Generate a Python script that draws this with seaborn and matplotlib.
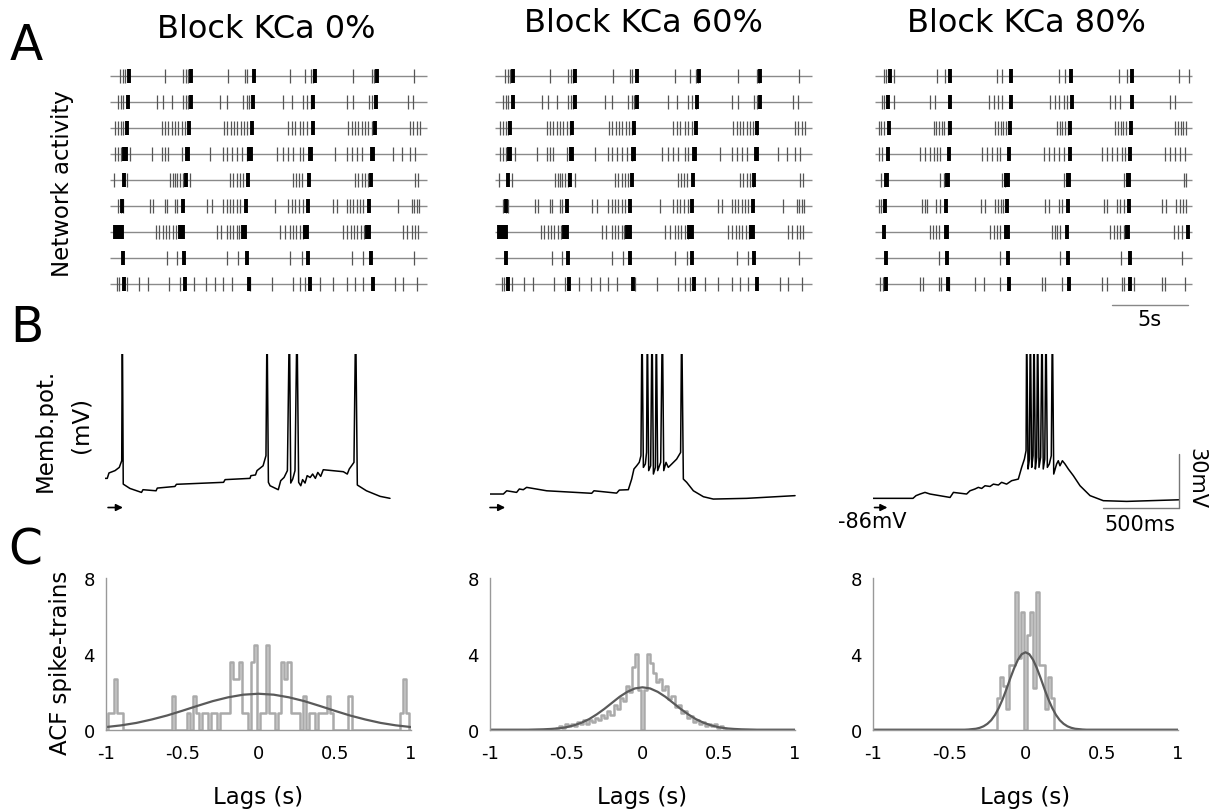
import numpy as np
import pandas as pd
import matplotlib
matplotlib.use("Agg")
import matplotlib.pyplot as plt
import seaborn as sns

# ---------------- DATA ----------------
titles = ["Block KCa 0%", "Block KCa 60%", "Block KCa 80%"]
panel_letters = ["A", "B", "C"]

# Panel A: raster (spike times in s), 9 neurons per condition
kca0_spikes = [
    [0.52, 0.69, 0.84, 3.42, 4.6, 4.77, 4.92, 7.5, 8.58, 8.73, 11.48, 12.45, 12.82, 12.99, 15.57, 16.75, 16.9, 19.5],
    [0.41, 0.56, 0.73, 2.92, 3.31, 3.85, 4.6, 4.77, 4.92, 6.97, 7.4, 8.47, 8.69, 8.86, 11.0, 11.6, 12.34, 12.56, 12.82, 15.14, 15.53, 16.6, 16.75, 19.1, 19.44],
    [0.19, 0.41, 0.56, 0.73, 3.2, 3.42, 3.63, 3.85, 4.06, 4.28, 4.5, 4.71, 7.23, 7.44, 7.66, 7.87, 8.09, 8.3, 8.52, 8.73, 11.38, 11.6, 11.8, 12.13, 12.34, 12.56, 15.25, 15.46, 15.68, 15.9, 16.1, 16.3, 16.5, 16.75, 19.2, 19.44, 19.66, 19.87],
    [0.19, 0.41, 0.56, 1.16, 2.56, 3.2, 3.42, 3.63, 4.5, 6.32, 7.18, 7.4, 7.72, 8.04, 8.37, 8.69, 10.62, 11.05, 11.38, 11.7, 12.13, 12.34, 14.39, 15.14, 15.46, 15.78, 16.1, 18.15, 18.69, 19.22, 19.55],
    [0.13, 0.95, 3.74, 3.91, 4.06, 4.22, 4.39, 4.56, 5.03, 7.61, 7.83, 8.04, 8.26, 8.43, 11.7, 11.87, 12.04, 12.24, 15.68, 15.9, 16.1, 16.32, 16.5, 19.55, 19.76],
    [0.41, 0.56, 0.73, 2.45, 2.67, 3.42, 3.53, 4.06, 4.17, 6.1, 6.43, 7.18, 7.4, 7.61, 7.83, 8.04, 8.26, 10.52, 11.38, 11.6, 11.8, 12.09, 12.34, 14.28, 14.49, 15.14, 15.35, 15.57, 15.78, 16.0, 16.2, 18.47, 19.33, 19.48, 19.66, 19.83],
    [2.84, 3.05, 3.27, 3.48, 3.7, 3.91, 4.13, 6.75, 7.01, 7.4, 7.61, 7.83, 8.04, 8.21, 10.84, 11.16, 11.48, 11.7, 11.9, 12.13, 12.34, 14.92, 15.14, 15.4, 15.61, 15.83, 16.04, 16.26, 18.75, 19.0, 19.33, 19.55, 19.76],
    [3.53, 4.17, 7.4, 8.15, 11.48, 12.24, 15.46, 16.21, 19.5],
    [0.3, 0.47, 0.95, 1.76, 2.34, 3.7, 4.39, 5.29, 6.06, 6.65, 7.18, 7.72, 8.9, 10.3, 11.7, 12.13, 12.45, 13.42, 14.28, 15.14, 15.68, 16.21, 18.26, 18.8, 19.66],
]
kca0_bursts = [
    [1.12, 5.08, 9.16, 13.1, 17.07],
    [1.05, 5.08, 9.12, 12.99, 17.03],
    [0.99, 4.99, 9.01, 12.99, 16.97],
    [0.8, 0.9, 4.82, 4.9, 8.86, 8.95, 12.78, 12.87, 16.78, 16.87],
    [0.77, 4.77, 8.8, 12.73, 16.69],
    [0.62, 4.56, 8.65, 12.67, 16.6],
    [0.18, 0.33, 0.48, 0.62, 4.4, 4.55, 8.45, 8.6, 12.48, 12.6, 16.45, 16.57],
    [0.69, 4.65, 8.69, 12.67, 16.69],
    [0.77, 4.71, 8.84, 12.77, 16.82],
]
# 60% block: network pattern read as practically the same as 0%
kca60_spikes = [list(r) for r in kca0_spikes]
kca60_bursts = [
    [1.05, 5.0, 9.05, 13.0, 16.95],
    [1.0, 5.0, 9.05, 12.9, 16.95],
    [0.85, 4.85, 8.85, 12.85, 16.75],
    [0.75, 0.85, 4.75, 4.85, 8.75, 8.85, 12.7, 12.8, 16.7, 16.8],
    [0.7, 4.7, 8.7, 12.65, 16.6],
    [0.55, 4.5, 8.55, 12.6, 16.5],
    [0.12, 0.27, 0.42, 0.56, 4.35, 4.5, 8.4, 8.55, 12.4, 12.55, 16.4, 16.5],
    [0.6, 4.6, 8.6, 12.6, 16.6],
    [0.7, 4.65, 8.75, 12.7, 16.75],
]
kca80_spikes = [
    [0.43, 0.6, 1.08, 3.87, 4.41, 7.74, 8.06, 11.72, 12.15, 15.59, 16.13, 19.46, 20.1],
    [0.32, 0.47, 1.08, 3.44, 3.76, 7.2, 7.53, 7.8, 8.06, 11.18, 11.46, 11.72, 12.04, 12.26, 15.05, 15.38, 15.7, 18.92, 19.25],
    [0.11, 0.26, 0.43, 3.66, 3.83, 4.0, 4.17, 4.34, 4.56, 7.63, 7.8, 7.98, 8.15, 8.32, 11.61, 11.78, 11.96, 12.13, 12.3, 15.38, 15.55, 15.72, 15.89, 16.06, 19.25, 19.42, 19.59, 19.76, 19.94],
    [0.11, 0.32, 2.8, 3.12, 3.44, 3.66, 3.87, 4.09, 6.77, 7.1, 7.42, 7.74, 7.96, 10.75, 11.08, 11.4, 11.72, 12.04, 14.52, 14.84, 15.16, 15.48, 15.8, 16.02, 18.6, 18.92, 19.25, 19.57, 19.89],
    [0.26, 4.09, 4.3, 8.06, 8.28, 12.04, 15.91, 19.78, 19.96],
    [0.11, 0.26, 2.9, 3.08, 3.23, 3.83, 4.04, 6.71, 6.99, 7.63, 7.8, 7.98, 8.15, 10.82, 11.08, 11.72, 11.94, 14.62, 14.84, 15.48, 15.7, 15.91, 18.39, 18.67, 19.31, 19.53, 19.74, 19.96],
    [3.44, 3.61, 3.78, 4.0, 7.31, 7.53, 7.74, 7.96, 11.29, 11.46, 11.63, 11.83, 15.05, 15.27, 15.48, 15.7, 15.91, 19.14, 19.4, 19.68],
    [3.98, 7.96, 11.83, 15.74, 19.68],
    [0.22, 0.39, 2.8, 2.97, 3.98, 4.13, 4.62, 6.34, 6.88, 7.96, 10.65, 10.86, 11.94, 14.52, 14.84, 15.8, 15.91, 16.6, 18.39, 18.6, 19.89],
]
kca80_bursts = [
    [0.82, 4.69, 8.65, 12.52, 16.45],
    [0.69, 4.69, 8.65, 12.58, 16.45],
    [0.75, 4.69, 8.6, 12.47, 16.39],
    [0.69, 4.62, 8.49, 12.43, 16.3],
    [0.56, 0.64, 4.52, 4.6, 8.35, 8.43, 12.33, 12.41, 16.2, 16.28],
    [0.54, 4.47, 8.39, 12.3, 16.24],
    [0.47, 4.43, 4.51, 8.35, 8.43, 12.26, 16.13, 16.21, 20.04],
    [0.6, 4.52, 8.43, 12.3, 16.3],
    [0.6, 4.56, 8.49, 12.37, 16.3],
]
raster_span = [-0.15, 20.3]

# Panel B: membrane potential traces (time s, mV)
trace0_t = [0.000, 0.015, 0.026, 0.066, 0.094, 0.110, 0.114, 0.120, 0.164, 0.240, 0.250, 0.336, 0.344, 0.460, 0.470,
            0.780, 0.790, 0.954, 0.960, 0.990, 1.000, 1.040, 1.059, 1.066, 1.075, 1.086, 1.140, 1.156, 1.178, 1.200,
            1.213, 1.222, 1.235, 1.250, 1.263, 1.274, 1.288, 1.300, 1.316, 1.330, 1.350, 1.366, 1.384, 1.400, 1.419,
            1.436, 1.568, 1.594, 1.607, 1.638, 1.649, 1.660, 1.720, 1.810, 1.875]
trace0_v = [-69.8, -69.8, -66.8, -65.5, -63.7, -60.0, 20.0, -73.0, -75.4, -77.6, -76.1, -76.7, -75.2, -74.3, -73.1,
            -72.0, -70.5, -69.8, -68.3, -67.9, -65.5, -62.8, -57.2, 20.0, -72.0, -73.9, -76.1, -71.1, -69.3, -65.5,
            20.0, -72.4, -70.2, -65.5, 20.0, -72.0, -73.9, -70.5, -72.4, -68.3, -69.3, -67.4, -69.8, -66.5, -68.7,
            -65.0, -66.1, -67.4, -64.6, -60.9, 20.0, -73.5, -76.7, -79.8, -80.9]
trace60_t = [0.000, 0.088, 0.110, 0.175, 0.193, 0.219, 0.241, 0.373, 0.669, 0.684, 0.833, 0.851, 0.910, 0.932, 0.947,
             0.965, 0.982, 0.993, 1.000, 1.009, 1.022, 1.030, 1.035, 1.044, 1.057, 1.066, 1.075, 1.088, 1.094, 1.103,
             1.123, 1.134, 1.143, 1.158, 1.173, 1.196, 1.228, 1.254, 1.261, 1.272, 1.294, 1.338, 1.404, 1.469, 1.689,
             2.007]
trace60_v = [-78.5, -78.5, -76.7, -77.6, -75.7, -76.1, -74.8, -76.7, -78.1, -76.7, -78.0, -76.3, -76.1, -70.2, -64.6,
             -62.8, -60.9, -57.2, 20.0, -63.7, -61.8, -55.4, 20.0, -65.5, -62.8, 20.0, -67.4, -63.7, 20.0, -65.5,
             -60.9, 20.0, -65.5, -60.9, -63.7, -61.8, -59.1, -55.4, 20.0, -70.2, -72.0, -76.7, -80.0, -81.3, -80.9,
             -79.4]
trace80_t = [0.000, 0.263, 0.283, 0.310, 0.342, 0.375, 0.507, 0.529, 0.616, 0.638, 0.671, 0.693, 0.715, 0.737, 0.770,
             0.792, 0.825, 0.846, 0.879, 0.912, 0.956, 0.978, 0.996, 1.007, 1.011, 1.020, 1.029, 1.035, 1.044, 1.053,
             1.059, 1.068, 1.077, 1.083, 1.092, 1.103, 1.112, 1.120, 1.130, 1.138, 1.147, 1.160, 1.173, 1.180, 1.189,
             1.208, 1.219, 1.230, 1.246, 1.263, 1.285, 1.318, 1.362, 1.428, 1.515, 1.669, 2.015]
trace80_v = [-80.9, -80.9, -79.4, -78.5, -77.6, -78.5, -80.4, -77.6, -78.5, -76.7, -75.7, -74.8, -75.4, -73.9, -74.3,
             -73.0, -73.5, -72.0, -73.0, -71.1, -70.2, -63.7, -59.1, -54.4, 20.0, -64.6, -59.1, 20.0, -63.7, -57.2,
             20.0, -64.6, -58.1, 20.0, -63.7, -58.1, 20.0, -64.6, -59.1, 20.0, -63.7, -61.8, -57.2, 20.0, -67.4,
             -61.8, -60.0, -62.8, -60.0, -61.8, -64.6, -68.3, -73.9, -79.4, -82.2, -82.6, -81.7]
rest_level_mv = -86

# Panel C: autocorrelograms (bin centers, heights) and Gaussian fits
acf0_lags = [-0.98, -0.96, -0.94, -0.92, -0.90, -0.56, -0.46, -0.42, -0.40, -0.36, -0.34, -0.30, -0.28, -0.24,
             -0.22, -0.20, -0.18, -0.16, -0.14, -0.12, -0.10, -0.08, -0.04, -0.02, 0.02, 0.04, 0.06, 0.08, 0.10,
             0.14, 0.16, 0.18, 0.20, 0.22, 0.24, 0.26, 0.30, 0.34, 0.36, 0.40, 0.42, 0.44, 0.46, 0.48, 0.60,
             0.94, 0.96, 0.98]
acf0_vals = [0.9, 0.9, 2.7, 0.9, 0.9, 1.8, 0.9, 1.8, 0.9, 0.9, 0.9, 0.9, 0.9, 0.9,
             0.9, 0.9, 3.6, 2.7, 2.7, 3.6, 0.9, 0.9, 3.6, 4.5, 0.9, 0.9, 4.5, 0.9, 0.9,
             0.9, 3.6, 2.7, 3.6, 0.9, 0.9, 0.9, 1.8, 0.9, 0.9, 0.9, 0.9, 0.9, 1.8, 0.9, 1.8,
             0.9, 2.7, 0.9]
acf60_lags = [-0.56, -0.54, -0.52, -0.50, -0.48, -0.46, -0.44, -0.42, -0.40, -0.38, -0.36, -0.34, -0.32, -0.30,
              -0.28, -0.26, -0.24, -0.22, -0.20, -0.18, -0.16, -0.14, -0.12, -0.10, -0.08, -0.06, -0.04, -0.02,
              0.00, 0.02, 0.04, 0.06, 0.08, 0.10, 0.12, 0.14, 0.16, 0.18, 0.20, 0.22, 0.24, 0.26, 0.28, 0.30,
              0.32, 0.34, 0.36, 0.38, 0.40, 0.42, 0.44, 0.46, 0.48, 0.50, 0.52, 0.54]
acf60_vals = [0.1, 0.2, 0.1, 0.3, 0.2, 0.3, 0.2, 0.4, 0.3, 0.5, 0.3, 0.5, 0.4, 0.6,
              0.5, 0.8, 0.6, 1.0, 0.8, 1.3, 1.1, 1.7, 1.5, 2.3, 2.0, 3.3, 4.0, 2.1,
              0.0, 2.1, 4.0, 3.5, 3.0, 2.5, 2.7, 2.1, 2.3, 1.6, 1.8, 1.2, 1.3, 0.9, 1.0, 0.6,
              0.7, 0.4, 0.5, 0.3, 0.4, 0.2, 0.3, 0.2, 0.3, 0.1, 0.2, 0.1]
acf80_lags = [-0.18, -0.16, -0.14, -0.12, -0.10, -0.08, -0.06, -0.04, -0.02, 0.00, 0.02, 0.04, 0.06, 0.08,
              0.10, 0.12, 0.14, 0.16, 0.18]
acf80_vals = [1.7, 2.8, 2.3, 1.1, 3.4, 3.4, 7.3, 3.8, 6.2, 0.0, 5.0, 6.2, 2.2, 7.3,
              3.4, 3.4, 1.1, 2.8, 1.7]

fit0_x = [-1.0, -0.9, -0.8, -0.7, -0.6, -0.5, -0.4, -0.3, -0.2, -0.1, 0.0, 0.1, 0.2, 0.3, 0.4, 0.5, 0.6, 0.7, 0.8, 0.9, 1.0]
fit0_y = [0.14, 0.23, 0.36, 0.54, 0.75, 1.0, 1.26, 1.51, 1.71, 1.85, 1.9, 1.85, 1.71, 1.51, 1.26, 1.0, 0.75, 0.54, 0.36, 0.23, 0.14]
fit60_x = [-1.0, -0.75, -0.7, -0.65, -0.6, -0.55, -0.5, -0.45, -0.4, -0.35, -0.3, -0.25, -0.2, -0.15, -0.1, -0.05,
           0.0, 0.05, 0.1, 0.15, 0.2, 0.25, 0.3, 0.35, 0.4, 0.45, 0.5, 0.55, 0.6, 0.65, 0.7, 0.75, 1.0]
fit60_y = [0.0, 0.0, 0.01, 0.02, 0.04, 0.07, 0.13, 0.23, 0.37, 0.56, 0.81, 1.10, 1.42, 1.74, 2.0, 2.18,
           2.24, 2.18, 2.0, 1.74, 1.42, 1.10, 0.81, 0.56, 0.37, 0.23, 0.13, 0.07, 0.04, 0.02, 0.01, 0.0, 0.0]
fit80_x = [-1.0, -0.4, -0.375, -0.35, -0.325, -0.3, -0.275, -0.25, -0.225, -0.2, -0.175, -0.15, -0.125, -0.1,
           -0.075, -0.05, -0.025, 0.0, 0.025, 0.05, 0.075, 0.1, 0.125, 0.15, 0.175, 0.2, 0.225, 0.25, 0.275,
           0.3, 0.325, 0.35, 0.375, 0.4, 1.0]
fit80_y = [0.0, 0.0, 0.01, 0.03, 0.05, 0.10, 0.18, 0.31, 0.50, 0.78, 1.15, 1.61, 2.14, 2.71,
           3.24, 3.69, 3.99, 4.09, 3.99, 3.69, 3.24, 2.71, 2.14, 1.61, 1.15, 0.78, 0.50, 0.31, 0.18,
           0.10, 0.05, 0.03, 0.01, 0.0, 0.0]

lag_ticks = [-1, -0.5, 0, 0.5, 1]
lag_tick_labels = ["-1", "-0.5", "0", "0.5", "1"]
acf_ticks = [0, 4, 8]
acf_tick_labels = ["0", "4", "8"]

# ---------------- FIGURE ----------------
sns.set_theme(style="white")
plt.rcParams["font.family"] = ["DejaVu Sans"]
plt.rcParams["axes.unicode_minus"] = False
plt.rcParams["text.color"] = "black"
plt.rcParams["axes.labelcolor"] = "black"
plt.rcParams["xtick.color"] = "black"
plt.rcParams["ytick.color"] = "black"

W, H = 1213, 812
fig = plt.figure(figsize=(W / 100, H / 100), dpi=100)


def add_ax(left, top, width, height):
    return fig.add_axes([left / W, 1 - (top + height) / H, width / W, height / H])


def ftext(x, y, s, **kw):
    fig.text(x / W, 1 - y / H, s, color="black", **kw)


# Titles and letters
ftext(266, 38, titles[0], ha="center", va="baseline", fontsize=23)
ftext(643, 32, titles[1], ha="center", va="baseline", fontsize=23)
ftext(1026, 32, titles[2], ha="center", va="baseline", fontsize=23)
ftext(10, 60, panel_letters[0], ha="left", va="baseline", fontsize=35)
ftext(10, 342, panel_letters[1], ha="left", va="baseline", fontsize=35)
ftext(8, 565, panel_letters[2], ha="left", va="baseline", fontsize=35)
ftext(63, 184, "Network activity", rotation=90, ha="center", va="center", fontsize=16.5)
ftext(45, 430, "Memb.pot.", rotation=90, ha="center", va="center", fontsize=16.5)
ftext(81, 425, "(mV)", rotation=90, ha="center", va="center", fontsize=16.5)
ftext(60, 663, "ACF spike-trains", rotation=90, ha="center", va="center", fontsize=16.5)

# ---- Panel A: rasters
raster_sets = [(kca0_spikes, kca0_bursts), (kca60_spikes, kca60_bursts), (kca80_spikes, kca80_bursts)]
raster_lefts = [112, 497, 877]
for k, (spk, bst) in enumerate(raster_sets):
    ax = add_ax(raster_lefts[k], 63.7, 310, 234)
    for i in range(len(spk)):
        ax.hlines(i, raster_span[0], raster_span[1], color="#8a8a8a", lw=1.0, clip_on=False)
        ax.vlines(spk[i], i - 0.27, i + 0.27, color="#555555", lw=0.9, clip_on=False)
        ax.vlines(bst[i], i - 0.27, i + 0.27, color="black", lw=2.8, clip_on=False)
    ax.set_xlim(0, 20)
    ax.set_ylim(8.5, -0.5)
    ax.axis("off")
    if k == 2:
        ax.plot([15.18, 20.08], [8.82, 8.82], color="#888888", lw=1.0, clip_on=False)
        ax.text(17.6, 9.35, "5s", ha="center", va="center", fontsize=15, color="black")

# ---- Panel B: membrane potential
traces = [(trace0_t, trace0_v), (trace60_t, trace60_v), (trace80_t, trace80_v)]
b_lefts = [105, 490, 873]
arrow_spans = [(0.02, 0.118), (0.0, 0.1), (0.01, 0.095)]
for k, (tt, vv) in enumerate(traces):
    ax = add_ax(b_lefts[k], 355, 311.6, 160)
    df_tr = pd.DataFrame({"t": tt, "v": vv})
    sns.lineplot(data=df_tr, x="t", y="v", ax=ax, color="black", lw=1.1, estimator=None, sort=False)
    ax.set_xlim(0, 2.05)
    ax.set_ylim(-89.6, -0.7)
    ax.axis("off")
    a0, a1 = arrow_spans[k]
    ax.annotate("", xy=(a1, rest_level_mv), xytext=(a0, rest_level_mv),
                arrowprops=dict(arrowstyle="-|>", color="black", lw=1.2, mutation_scale=10,
                                shrinkA=0, shrinkB=0), annotation_clip=False)
    if k == 2:
        ax.text(-0.23, -93.5, "-86mV", ha="left", va="center", fontsize=15, color="black")
        ax.plot([1.513, 2.013], [-86, -86], color="#777777", lw=1.0, clip_on=False)
        ax.plot([2.013, 2.013], [-86, -56], color="#777777", lw=1.0, clip_on=False)
        ax.text(1.757, -95.0, "500ms", ha="center", va="center", fontsize=15, color="black")
        ax.text(2.125, -69.5, "30mV", ha="center", va="center", rotation=270, fontsize=15, color="black")

# ---- Panel C: autocorrelograms
edges = [round(e / 100.0, 2) for e in range(-101, 103, 2)]
acfs = [(acf0_lags, acf0_vals, fit0_x, fit0_y), (acf60_lags, acf60_vals, fit60_x, fit60_y),
        (acf80_lags, acf80_vals, fit80_x, fit80_y)]
c_lefts = [106, 490, 873]
for k, (lg, vals, fx, fy) in enumerate(acfs):
    ax = add_ax(c_lefts[k], 579.3, 305, 151.4)
    df_h = pd.DataFrame({"lag": lg, "h": vals})
    sns.histplot(data=df_h, x="lag", weights="h", bins=edges, element="step", fill=False,
                 color="#aaaaaa", lw=1.8, ax=ax)
    df_f = pd.DataFrame({"x": fx, "y": fy})
    sns.lineplot(data=df_f, x="x", y="y", ax=ax, color="#5a5a5a", lw=1.6, estimator=None, sort=False)
    ax.set_xlim(-1, 1)
    ax.set_ylim(0, 8)
    ax.set_xticks(lag_ticks)
    ax.set_xticklabels(lag_tick_labels)
    ax.set_yticks(acf_ticks)
    ax.set_yticklabels(acf_tick_labels)
    ax.set_xlabel("")
    ax.set_ylabel("")
    for s in ["top", "right"]:
        ax.spines[s].set_visible(False)
    for s in ["left", "bottom"]:
        ax.spines[s].set_color("#999999")
        ax.spines[s].set_linewidth(1.0)
    ax.tick_params(axis="both", direction="in", length=4, width=1, color="#999999",
                   labelcolor="black", labelsize=13)
    ax.tick_params(axis="x", pad=10)
    ax.tick_params(axis="y", pad=8)
    ax.set_facecolor("none")
    ftext(c_lefts[k] + 152, 798, "Lags (s)", ha="center", va="center", fontsize=16.5)

fig.savefig("out.png", dpi=100, facecolor="white")
